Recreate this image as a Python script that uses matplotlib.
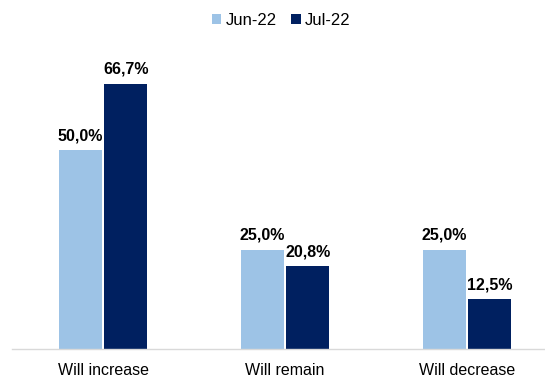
import matplotlib.pyplot as plt
import numpy as np
from matplotlib import font_manager

names = {f.name for f in font_manager.fontManager.ttflist}
narrow = 'Liberation Sans Narrow' if 'Liberation Sans Narrow' in names else 'Liberation Sans'
plt.rcParams['font.family'] = [narrow, 'DejaVu Sans']

# Dane ankiety
categories = ['Will increase', 'Will remain', 'Will decrease']
series_names = ['Jun-22', 'Jul-22']
jun22 = [50.0, 25.0, 25.0]
jul22 = [66.7, 20.8, 12.5]

colors = ['#9DC3E6', '#002060']
bar_w = 0.236
offset = 0.125

fig = plt.figure(figsize=(5.45, 3.83), dpi=100)
ax = fig.add_axes([12 / 545, 34 / 383, 533 / 545, 318 / 383])

x = np.arange(len(categories))
for vals, name, col, sgn in zip([jun22, jul22], series_names, colors, [-1, 1]):
    bars = ax.bar(x + sgn * offset, vals, width=bar_w, color=col, label=name)
    labels = [f'{v:.1f}%'.replace('.', ',') for v in vals]
    ax.bar_label(bars, labels=labels, padding=5, fontsize=11.5,
                 fontweight='bold', color='black')

ax.set_xlim(-0.5, -0.5 + 533 / 182)
ax.set_ylim(0, 80)
ax.set_xticks(x)
ax.set_xticklabels(categories, fontsize=11.5)
ax.tick_params(axis='x', length=0, pad=10)
ax.set_yticks([])

for s in ['top', 'right', 'left']:
    ax.spines[s].set_visible(False)
ax.spines['bottom'].set_color('#D9D9D9')
ax.spines['bottom'].set_linewidth(1.0)

fig.legend(loc='upper center', bbox_to_anchor=(0.516, 1.005), ncol=2,
           frameon=False, fontsize=12, handlelength=0.55, handleheight=0.55,
           handletextpad=0.25, columnspacing=0.9)

plt.savefig('out.png', dpi=100)
